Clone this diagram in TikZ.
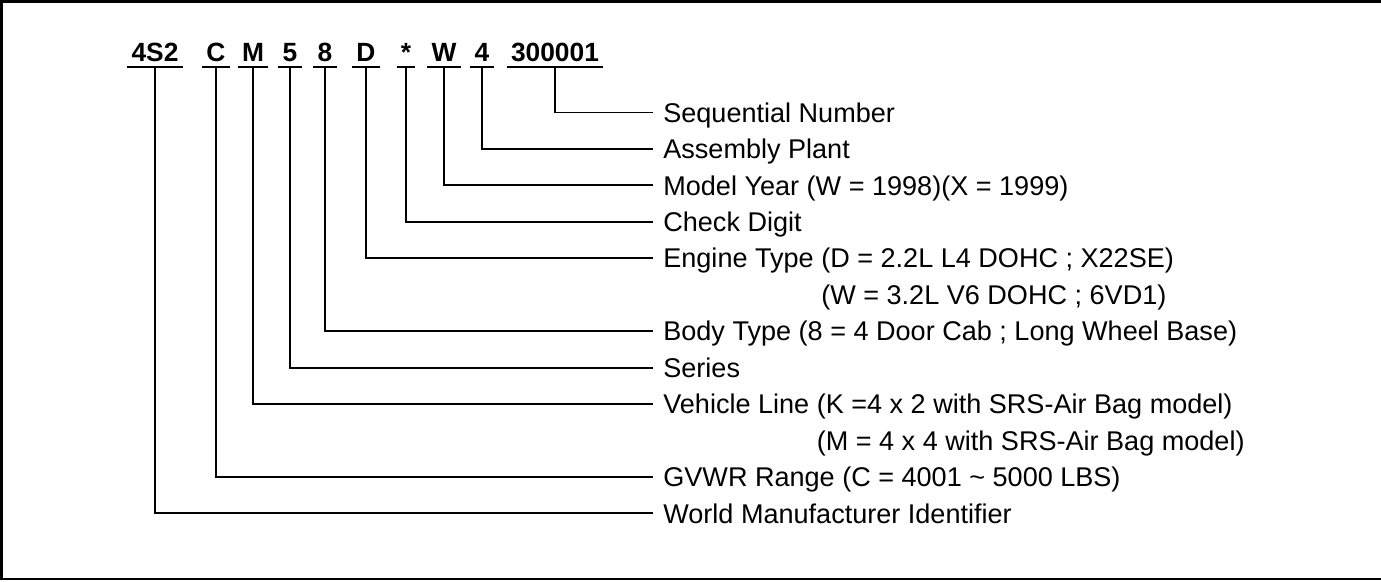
\documentclass[tikz,border=0pt]{standalone}
\usepackage{fontspec}
\setmainfont{Liberation Sans}
\newcommand{\vinfont}{\fontsize{15}{18}\selectfont\bfseries}
\newcommand{\txtfont}{\fontsize{15.4}{18}\selectfont}
\tikzset{
	vinchar/.style={font=\vinfont, anchor=base, inner xsep=0.08cm, inner ysep=0pt, text depth=0.1cm},
	vinlabel/.style={font=\txtfont, anchor=west, inner xsep=0.2cm, inner ysep=0pt, text height=11pt, text depth=0pt},
	leader/.style={line width=1.1pt}
}
\begin{document}
\begin{tikzpicture}[x=0.02cm,y=-0.02cm]
		\useasboundingbox (0,0) rectangle (1381,581);
		%frame
			\draw[line width=1.3pt] (1381,1.5) -- (1.5,1.5) -- (1.5,579) -- (1381,579);
		% descriptions
			\node[vinlabel] (seq-lbl) at (653,112.5) {Sequential Number};
			\node[vinlabel] (plant-lbl) at (653,148.95) {Assembly Plant};
			\node[vinlabel] (year-lbl) at (653,185.4) {Model Year (W = 1998)(X = 1999)};
			\node[vinlabel] (chk-lbl) at (653,221.85) {Check Digit};
			\node[vinlabel] (eng-lbl) at (653,258.3) {Engine Type (D = 2.2L L4 DOHC ; X22SE)};
			\node[vinlabel] (eng-more) at (653,294.75) {\hphantom{Engine Type }(W = 3.2L V6 DOHC ; 6VD1)};
			\node[vinlabel] (body-lbl) at (653,331.2) {Body Type (8 = 4 Door Cab ; Long Wheel Base)};
			\node[vinlabel] (ser-lbl) at (653,367.65) {Series};
			\node[vinlabel] (line-lbl) at (653,404.1) {Vehicle Line (K =4 x 2 with SRS-Air Bag model)};
			\node[vinlabel] (line-more) at (653,440.55) {\hphantom{Vehicle Line }(M = 4 x 4 with SRS-Air Bag model)};
			\node[vinlabel] (gvw-lbl) at (653,477) {GVWR Range (C = 4001 \textasciitilde{} 5000 LBS)};
			\node[vinlabel] (wmi-lbl) at (653,513.45) {World Manufacturer Identifier};
		% code characters and leaders
			\foreach \name/\xpos/\txt in {wmi/155/4S2,gvw/216/C,line/253/M,ser/290/5,body/325/8,eng/366/D,chk/406/*,year/444/W,plant/482/4,seq/555/300001}{
				\node[vinchar] (\name) at (\xpos,62) {\txt};
				\draw[leader] (\name.south west) -- (\name.south east);
				\draw[leader] (\name.south) |- (\name-lbl.west);
				}
	\end{tikzpicture}
\end{document}
